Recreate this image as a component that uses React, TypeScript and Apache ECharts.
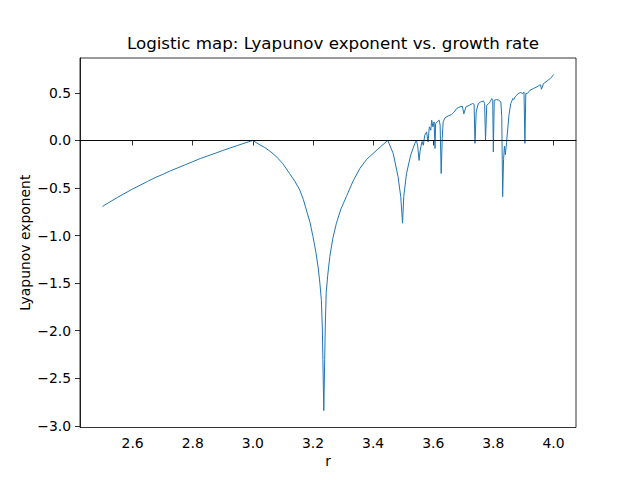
import React, { useEffect, useRef } from 'react';
import * as echarts from 'echarts';

// growth rate r
const rValues = [
  2.5, 2.525, 2.55, 2.6, 2.625, 2.65, 2.675, 2.7, 2.725, 2.75, 2.775, 2.8,
  2.825, 2.85, 2.875, 2.9, 2.925, 2.95, 2.975, 3.0,
  3.02, 3.04, 3.06, 3.08, 3.1, 3.122, 3.14, 3.156, 3.168, 3.178, 3.19, 3.2,
  3.21, 3.217, 3.223, 3.228, 3.231, 3.233, 3.236,
  3.239, 3.241, 3.244, 3.249, 3.256, 3.266, 3.278, 3.293, 3.311, 3.333,
  3.356, 3.378, 3.4, 3.425, 3.449,
  3.467, 3.483, 3.492, 3.498, 3.502, 3.511, 3.525, 3.539, 3.544,
  3.548, 3.553, 3.556, 3.559, 3.563, 3.567, 3.572, 3.578, 3.583, 3.587,
  3.592, 3.595, 3.599, 3.603, 3.606, 3.608, 3.613, 3.62, 3.623, 3.6265,
  3.63, 3.633, 3.639, 3.65, 3.661, 3.67, 3.678, 3.689, 3.697, 3.702,
  3.709, 3.72, 3.731, 3.736, 3.739, 3.743, 3.75, 3.758, 3.767, 3.771,
  3.774, 3.778, 3.787, 3.795, 3.798, 3.8, 3.803, 3.811, 3.818, 3.825,
  3.828, 3.831, 3.834, 3.837, 3.84, 3.844, 3.852, 3.858, 3.865, 3.868,
  3.872, 3.878, 3.883, 3.891, 3.898, 3.902, 3.905, 3.908, 3.913, 3.922,
  3.933, 3.945, 3.953, 3.957, 3.96, 3.967, 3.978, 3.989, 3.995, 4.0,
];

// Lyapunov exponent at each r
const lyapunov = [
  -0.693, -0.645, -0.598, -0.51, -0.47, -0.43, -0.39, -0.357, -0.32, -0.288,
  -0.255, -0.223, -0.19, -0.162, -0.134, -0.105, -0.078, -0.051, -0.025, 0.0,
  -0.04, -0.075, -0.12, -0.175, -0.245, -0.347, -0.43, -0.52, -0.62, -0.73,
  -0.86, -1.01, -1.18, -1.33, -1.5, -1.68, -1.95, -2.3, -2.84,
  -2.3, -1.95, -1.6, -1.42, -1.22, -1.03, -0.87, -0.72, -0.59, -0.43,
  -0.294, -0.2, -0.137, -0.065, 0.0,
  -0.137, -0.38, -0.59, -0.87, -0.59, -0.35, -0.155, -0.03, 0.0,
  -0.05, -0.21, -0.12, -0.067, -0.01, -0.05, 0.056, 0.09, -0.015, 0.143,
  0.108, 0.213, 0.143, 0.195, -0.084, 0.178, 0.195, 0.213, 0.16, -0.347,
  0.02, 0.195, 0.237, 0.258, 0.273, 0.3, 0.336, 0.353, 0.36, 0.28,
  0.353, 0.37, 0.389, 0.38, -0.03, 0.3, 0.389, 0.405, 0.416, 0.39,
  0.0, 0.37, 0.395, 0.441, 0.42, -0.12, 0.423, 0.43, 0.423, 0.405,
  0.25, -0.59, -0.2, -0.06, -0.15, -0.02, 0.266, 0.389, 0.441, 0.43,
  0.458, 0.476, 0.494, 0.504, 0.494, 0.51, -0.03, 0.494, 0.494, 0.528,
  0.546, 0.563, 0.58, 0.585, 0.539, 0.599, 0.623, 0.651, 0.668, 0.693,
];

const xTicks = [2.6, 2.8, 3.0, 3.2, 3.4, 3.6, 3.8, 4.0];
const yTicks = [-3.0, -2.5, -2.0, -1.5, -1.0, -0.5, 0.0, 0.5];

const FONT = 'DejaVu Sans';

const fmt = (v: number): string =>
  v < 0 ? `\u2212${Math.abs(v).toFixed(1)}` : v.toFixed(1);

export default function App() {
  const ref = useRef<HTMLDivElement>(null);

  useEffect(() => {
    if (!ref.current) return;
    const chart = echarts.init(ref.current, undefined, { renderer: 'svg' });

    chart.setOption({
      animation: false,
      backgroundColor: '#ffffff',
      textStyle: { fontFamily: FONT },
      title: {
        text: 'Logistic map: Lyapunov exponent vs. growth rate',
        left: 328,
        top: 29,
        textAlign: 'center',
        textStyle: {
          fontFamily: FONT,
          fontSize: 16.7,
          fontWeight: 'normal',
          color: '#000',
        },
      },
      grid: {
        left: 80,
        right: 64,
        top: 58,
        bottom: 52.5,
        show: true,
        borderColor: '#000',
        borderWidth: 0.8,
      },
      xAxis: {
        type: 'value',
        min: 2.425,
        max: 4.075,
        name: 'r',
        nameLocation: 'middle',
        nameGap: 26,
        nameMoveOverlap: false,
        nameTextStyle: { fontFamily: FONT, fontSize: 13.9, color: '#000' },
        axisLine: { show: true, lineStyle: { color: '#000', width: 0.8 } },
        axisTick: {
          show: true,
          length: 5,
          customValues: xTicks,
          lineStyle: { color: '#000', width: 0.8 },
        },
        axisLabel: {
          customValues: xTicks,
          formatter: fmt,
          margin: 8,
          fontFamily: FONT,
          fontSize: 13.9,
          color: '#000',
        },
        splitLine: { show: false },
      },
      yAxis: {
        type: 'value',
        min: -3.017,
        max: 0.867,
        name: 'Lyapunov exponent',
        nameLocation: 'middle',
        nameGap: 48,
        nameMoveOverlap: false,
        nameTextStyle: { fontFamily: FONT, fontSize: 13.9, color: '#000' },
        axisLine: { show: true, lineStyle: { color: '#000', width: 0.8 } },
        axisTick: {
          show: true,
          length: 5,
          customValues: yTicks,
          lineStyle: { color: '#000', width: 0.8 },
        },
        axisLabel: {
          customValues: yTicks,
          formatter: fmt,
          margin: 9,
          fontFamily: FONT,
          fontSize: 13.9,
          color: '#000',
        },
        splitLine: { show: false },
      },
      series: [
        {
          type: 'line',
          data: rValues.map((r, i) => [r, lyapunov[i]]),
          showSymbol: false,
          symbol: 'none',
          lineStyle: { color: '#1f77b4', width: 1 },
          markLine: {
            silent: true,
            symbol: 'none',
            label: { show: false },
            lineStyle: { color: '#000', width: 0.8, type: 'solid' },
            data: [{ yAxis: 0 }],
          },
        },
      ],
    });

    return () => {
      chart.dispose();
    };
  }, []);

  return (
    <div
      ref={ref}
      style={{
        position: 'fixed',
        left: 0,
        top: 0,
        width: 640,
        height: 480,
        background: '#fff',
      }}
    />
  );
}
